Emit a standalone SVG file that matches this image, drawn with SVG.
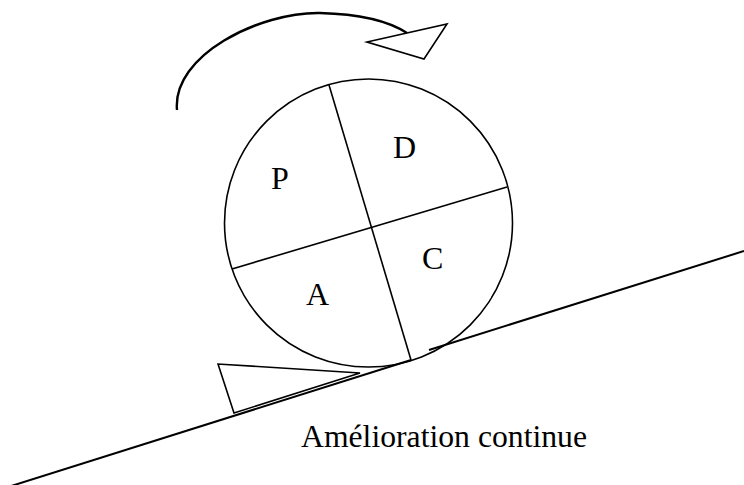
<svg xmlns="http://www.w3.org/2000/svg" width="744" height="485" viewBox="0 0 744 485">
<style>
.s{fill:none;stroke:#000;stroke-width:1.6;stroke-linejoin:miter}
.g{fill:none;stroke:#000;stroke-width:2}
.t{font-family:"Liberation Serif","Times New Roman",serif;font-size:32px;fill:#000}
</style>
<rect width="744" height="485" fill="#fff"/>
<g id="connectors">
<path id="rotation-arrow" d="M177,110 C172,55 260,12 320,13 C360,14 390,22 407,33" fill="none" stroke="#000" stroke-width="2.4"/>
<polygon id="rotation-head" class="s" points="367,42 447,24 424,59"/>
<line id="slope-lower" class="g" x1="8" y1="487" x2="411" y2="360"/>
<line id="slope-upper" class="g" x1="429" y1="350" x2="744" y2="251"/>
</g>
<g id="wedge">
<polygon class="s" points="218,364 234,413 360,373"/>
</g>
<g id="wheel">
<circle class="s" cx="368.5" cy="223" r="144"/>
<line class="s" x1="329" y1="85" x2="411" y2="360"/>
<line class="s" x1="232" y1="269" x2="507" y2="187"/>
<line x1="486" y1="301" x2="490" y2="296" stroke="#fff" stroke-width="3"/>
</g>
<g id="label-P"><text class="t" x="271" y="189">P</text></g>
<g id="label-D"><text class="t" x="393" y="158">D</text></g>
<g id="label-C"><text class="t" x="422" y="269">C</text></g>
<g id="label-A"><text class="t" x="306" y="305">A</text></g>
<g id="caption"><text class="t" x="301" y="447" font-size="34" textLength="286" lengthAdjust="spacingAndGlyphs">Amélioration continue</text></g>
</svg>
